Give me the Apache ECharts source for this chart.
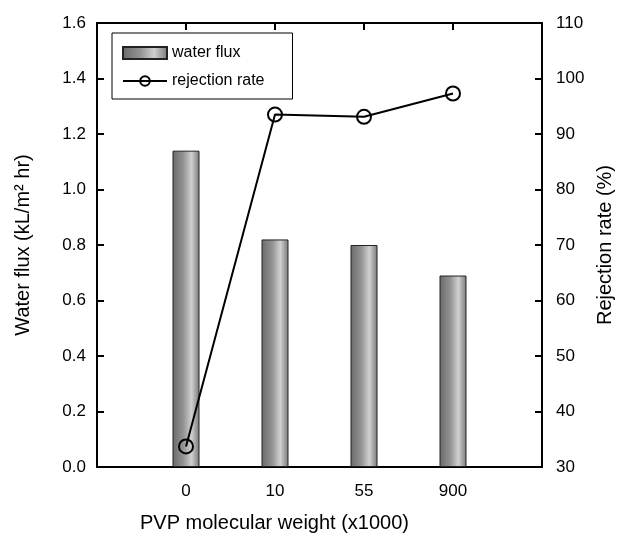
<!DOCTYPE html>
<html>
<head>
<meta charset="utf-8">
<script src="https://cdn.jsdelivr.net/npm/echarts@6/dist/echarts.min.js"></script>
<style>
  html, body { margin: 0; padding: 0; background: #fff; }
  #main { width: 624px; height: 544px; }
</style>
</head>
<body>
<div id="main"></div>
<script>
var categories = ['', '0', '10', '55', '900', ''];
var waterFlux = ['-', 1.14, 0.82, 0.80, 0.69, '-'];
var rejectionRate = ['-', 33.7, 93.5, 93.1, 97.3, '-'];

var chart = echarts.init(document.getElementById('main'));
var font = 'Liberation Sans, Arial, sans-serif';

var barFill = new echarts.graphic.LinearGradient(0, 0, 1, 0, [
    { offset: 0, color: '#6a6a6a' },
    { offset: 0.4, color: '#939393' },
    { offset: 0.7, color: '#d0d0d0' },
    { offset: 1, color: '#787878' }
]);

var option = {
    animation: false,
    backgroundColor: '#fff',
    grid: { left: 97, right: 82, top: 23, bottom: 77 },
    legend: {
        left: 112, top: 33,
        orient: 'vertical',
        borderColor: '#000', borderWidth: 1,
        padding: [12, 28, 10, 10],
        itemGap: 12,
        itemWidth: 44, itemHeight: 12,
        textStyle: { fontFamily: font, fontSize: 16, color: '#000' },
        data: [
            { name: 'water flux', icon: 'rect' },
            { name: 'rejection rate' }
        ]
    },
    xAxis: [{
        type: 'category',
        data: categories,
        boundaryGap: false,
        name: 'PVP molecular weight (x1000)',
        nameLocation: 'middle',
        nameGap: 46,
        nameTextStyle: { fontFamily: font, fontSize: 20, color: '#000', padding: [0, 90, 0, 0] },
        axisLine: { lineStyle: { color: '#000', width: 2 } },
        axisTick: { inside: true, length: 7, lineStyle: { color: '#000', width: 2 } },
        axisLabel: { fontFamily: font, fontSize: 17, color: '#000', margin: 16 },
        splitLine: { show: false }
    }, {
        type: 'category',
        data: categories,
        boundaryGap: false,
        position: 'top',
        axisLine: { lineStyle: { color: '#000', width: 2 } },
        axisTick: { inside: true, length: 7, lineStyle: { color: '#000', width: 2 } },
        axisLabel: { show: false },
        splitLine: { show: false }
    }],
    yAxis: [{
        type: 'value',
        min: 0, max: 1.6, interval: 0.2,
        name: 'Water flux (kL/m² hr)',
        nameLocation: 'middle',
        nameRotate: 90,
        nameGap: 64,
        nameTextStyle: { fontFamily: font, fontSize: 20, color: '#000' },
        axisLine: { show: true, lineStyle: { color: '#000', width: 2 } },
        axisTick: { show: true, inside: true, length: 7, lineStyle: { color: '#000', width: 2 } },
        axisLabel: { fontFamily: font, fontSize: 17, color: '#000', margin: 11,
            formatter: function (v) { return v.toFixed(1); } },
        splitLine: { show: false }
    }, {
        type: 'value',
        min: 30, max: 110, interval: 10,
        position: 'right',
        name: 'Rejection rate (%)',
        nameLocation: 'middle',
        nameRotate: 90,
        nameGap: 52,
        nameTextStyle: { fontFamily: font, fontSize: 20, color: '#000' },
        axisLine: { show: true, lineStyle: { color: '#000', width: 2 } },
        axisTick: { show: true, inside: true, length: 7, lineStyle: { color: '#000', width: 2 } },
        axisLabel: { fontFamily: font, fontSize: 17, color: '#000', margin: 14 },
        splitLine: { show: false }
    }],
    series: [{
        name: 'water flux',
        type: 'bar',
        xAxisIndex: 0,
        yAxisIndex: 0,
        barWidth: 27,
        data: waterFlux,
        itemStyle: { color: barFill, borderColor: '#222', borderWidth: 1 }
    }, {
        name: 'rejection rate',
        type: 'line',
        xAxisIndex: 0,
        yAxisIndex: 1,
        data: rejectionRate,
        symbol: 'circle',
        symbolSize: 14,
        showAllSymbol: true,
        lineStyle: { color: '#000', width: 2 },
        itemStyle: { color: 'rgba(0,0,0,0)', borderColor: '#000', borderWidth: 2 }
    }]
};

chart.setOption(option);
</script>
</body>
</html>
